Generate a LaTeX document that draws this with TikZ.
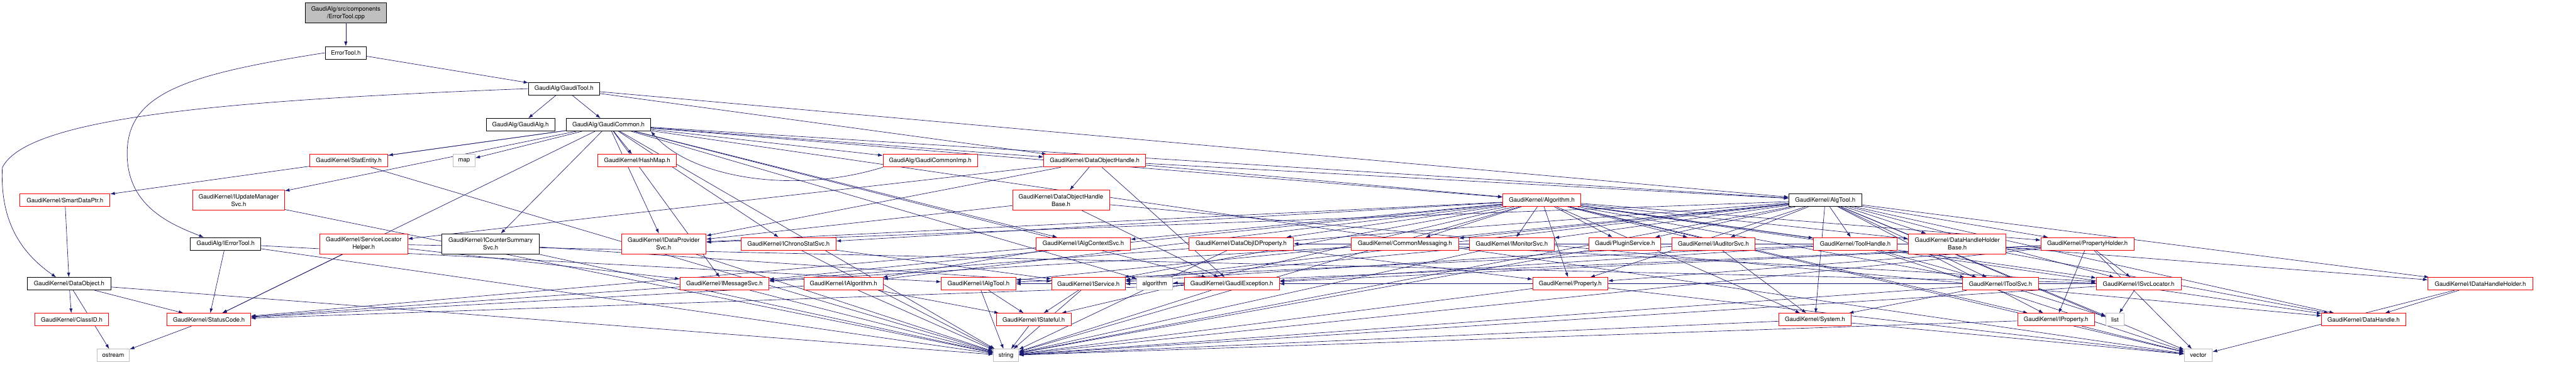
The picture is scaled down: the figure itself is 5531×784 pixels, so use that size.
\documentclass[tikz,border=0pt]{standalone}
\usepackage{fontspec}
\setmainfont{TeX Gyre Heros}
\usetikzlibrary{arrows.meta,backgrounds}
\definecolor{edgeBlue}{RGB}{25,25,112}
\definecolor{boxRed}{RGB}{255,0,0}
\definecolor{boxGrey}{RGB}{191,191,191}

\begin{document}
\begin{tikzpicture}[x=1pt, y=-1pt,
    hdr/.style={draw, fill=white, line width=1.1pt, minimum height=27pt, inner sep=2pt,
      align=center, font=\fontsize{13}{16}\selectfont},
    docbox/.style={hdr, draw=black},
    trunc/.style={hdr, draw=boxRed},
    sysbox/.style={hdr, draw=boxGrey},
    tall/.style={minimum height=43pt},
    dep/.style={draw=edgeBlue, line width=0.9pt, -{Latex[length=10pt,width=7pt]}}]
  \useasboundingbox (0,0) rectangle (5531,784);

  % top of the graph
  \node[docbox, tall, fill=boxGrey, minimum width=175pt] (cpp) at (742.5,28) {GaudiAlg/src/components\\/ErrorTool.cpp};
  \node[docbox, minimum width=89pt] (errh) at (742.5,113.5) {ErrorTool.h};
  \node[docbox, minimum width=152pt] (gtool) at (1211,190.5) {GaudiAlg/GaudiTool.h};
  \node[docbox, minimum width=147pt] (galg) at (1117.5,268) {GaudiAlg/GaudiAlg.h};
  \node[docbox, minimum width=181pt] (gcommon) at (1306.5,268) {GaudiAlg/GaudiCommon.h};

  % row A
  \node[trunc, minimum width=168pt] (statentity) at (749,345.5) {GaudiKernel/StatEntity.h};
  \node[sysbox, minimum width=47pt] (map) at (996.5,345.5) {map};
  \node[trunc, minimum width=168pt] (hashmap) at (1368,345.5) {GaudiKernel/HashMap.h};
  \node[trunc, minimum width=203pt] (gcimp) at (1997.5,345.5) {GaudiAlg/GaudiCommonImp.h};
  \node[trunc, minimum width=219pt] (doh) at (2350.5,345.5) {GaudiKernel/DataObjectHandle.h};

  % row B
  \node[trunc, minimum width=193pt] (smartptr) at (139.5,430.5) {GaudiKernel/SmartDataPtr.h};
  \node[trunc, tall, minimum width=197pt] (iupdmgr) at (512.5,430.5) {GaudiKernel/IUpdateManager\\Svc.h};
  \node[trunc, tall, minimum width=208pt] (dohbase) at (2278,430.5) {GaudiKernel/DataObjectHandle\\Base.h};
  \node[trunc, minimum width=167pt] (algorithmh) at (3310.5,430.5) {GaudiKernel/Algorithm.h};
  \node[docbox, minimum width=156pt] (algtool) at (3919,430.5) {GaudiKernel/AlgTool.h};

  % row C
  \node[docbox, minimum width=151pt] (ierrtool) at (484.5,524) {GaudiAlg/IErrorTool.h};
  \node[trunc, tall, minimum width=188pt] (slhelper) at (781,524) {GaudiKernel/ServiceLocator\\Helper.h};
  \node[docbox, tall, minimum width=209pt] (icounter) at (1053.5,524) {GaudiKernel/ICounterSummary\\Svc.h};
  \node[trunc, tall, minimum width=182pt] (idataprov) at (1425,524) {GaudiKernel/IDataProvider\\Svc.h};
  \node[trunc, minimum width=204pt] (ichrono) at (1693,524) {GaudiKernel/IChronoStatSvc.h};
  \node[trunc, minimum width=202pt] (ialgctx) at (2326,524) {GaudiKernel/IAlgContextSvc.h};
  \node[trunc, minimum width=224pt] (dataobjid) at (2665,524) {GaudiKernel/DataObjIDProperty.h};
  \node[trunc, minimum width=231pt] (commonmsg) at (3016.5,524) {GaudiKernel/CommonMessaging.h};
  \node[trunc, minimum width=182pt] (imonitor) at (3246,524) {GaudiKernel/IMonitorSvc.h};
  \node[trunc, minimum width=154pt] (pluginsvc) at (3489,524) {Gaudi/PluginService.h};
  \node[trunc, minimum width=178pt] (iauditor) at (3679,524) {GaudiKernel/IAuditorSvc.h};
  \node[trunc, minimum width=179pt] (toolhandle) at (3983.5,524) {GaudiKernel/ToolHandle.h};
  \node[trunc, tall, minimum width=209pt] (dhhbase) at (4202.5,524) {GaudiKernel/DataHandleHolder\\Base.h};
  \node[trunc, minimum width=200pt] (propholder) at (4482,524) {GaudiKernel/PropertyHolder.h};

  % row D
  \node[docbox, minimum width=179pt] (dataobject) at (148.5,610) {GaudiKernel/DataObject.h};
  \node[trunc, minimum width=191pt] (imessage) at (1555.5,610) {GaudiKernel/IMessageSvc.h};
  \node[trunc, minimum width=170pt] (ialgorithm) at (1811,610) {GaudiKernel/IAlgorithm.h};
  \node[trunc, minimum width=160pt] (ialgtool) at (2101,610) {GaudiKernel/IAlgTool.h};
  \node[trunc, minimum width=158pt] (iservice) at (2337,610) {GaudiKernel/IService.h};
  \node[sysbox, minimum width=77pt] (algostd) at (2479.5,610) {algorithm};
  \node[trunc, minimum width=204pt] (gaudiexc) at (2645,610) {GaudiKernel/GaudiException.h};
  \node[trunc, minimum width=161pt] (property) at (3371.5,610) {GaudiKernel/Property.h};
  \node[trunc, minimum width=163pt] (itoolsvc) at (4295.5,610) {GaudiKernel/IToolSvc.h};
  \node[trunc, minimum width=182pt] (isvcloc) at (4592,610) {GaudiKernel/ISvcLocator.h};
  \node[trunc, minimum width=225pt] (idhholder) at (5325.5,610) {GaudiKernel/IDataHandleHolder.h};

  % row E
  \node[trunc, minimum width=158pt] (classid) at (154,687) {GaudiKernel/ClassID.h};
  \node[trunc, minimum width=179pt] (statuscode) at (448.5,687) {GaudiKernel/StatusCode.h};
  \node[trunc, minimum width=161pt] (istateful) at (2219.5,687) {GaudiKernel/IStateful.h};
  \node[trunc, minimum width=156pt] (system) at (3897,687) {GaudiKernel/System.h};
  \node[trunc, minimum width=165pt] (iproperty) at (4414.5,687) {GaudiKernel/IProperty.h};
  \node[sysbox, minimum width=38pt] (list) at (4541,687) {list};
  \node[trunc, minimum width=180pt] (datahandle) at (5075,687) {GaudiKernel/DataHandle.h};

  % standard headers
  \node[sysbox, minimum width=70pt] (ostream) at (243,764) {ostream};
  \node[sysbox, minimum width=54pt] (string) at (2160,764) {string};
  \node[sysbox, minimum width=60pt] (vector) at (4720,764) {vector};

  % include edges, kept behind the boxes
  \begin{pgfonlayer}{background}
    \draw[dep] (cpp) -- (errh);
    \draw[dep] (errh) -- (gtool);
    \draw[dep] (errh.west) .. controls (400,160) and (273,200) .. (273,330)
      .. controls (273,440) and (360,480) .. ([xshift=29pt]ierrtool.north west);
    \draw[dep] (gtool.west) .. controls (500,215) and (60,250) .. (5,360)
      .. controls (0,470) and (40,540) .. ([xshift=-28pt]dataobject.north);
    \foreach \t in {galg,gcommon,doh,algtool}
      \draw[dep] (gtool) -- (\t);
    \foreach \t in {statentity,map,hashmap,gcimp,doh,smartptr,iupdmgr,icounter,idataprov,imessage,
        ichrono,ialgctx,statuscode,string,algorithmh,algtool,gaudiexc,vector,algostd}
      \draw[dep] (gcommon) -- (\t);
    \draw[dep] (gcimp.south west) .. controls (1700,420) and (1480,380) .. (gcommon.south east);
    \foreach \t in {dohbase,slhelper,idataprov,gaudiexc,algorithmh,algtool}
      \draw[dep] (doh) -- (\t);
    \foreach \t in {idataprov,datahandle,gaudiexc}
      \draw[dep] (dohbase) -- (\t);
    \foreach \t in {ialgorithm,imessage,iproperty,iservice,istateful,isvcloc,string,vector,commonmsg,
        ialgctx,iauditor,ichrono,idataprov,imonitor,itoolsvc,property,propholder,system,toolhandle,
        pluginsvc,dhhbase,dataobjid,datahandle}
      \draw[dep] (algorithmh) -- (\t);
    \foreach \t in {ialgtool,imessage,iproperty,iservice,isvcloc,itoolsvc,property,propholder,system,
        toolhandle,imonitor,iauditor,commonmsg,pluginsvc,dhhbase,idhholder,idataprov,string,vector,
        list,datahandle}
      \draw[dep] (algtool) -- (\t);
    \foreach \s/\t in {slhelper/statuscode,slhelper/imessage,slhelper/isvcloc,
        ierrtool/statuscode,ierrtool/ialgtool,ierrtool/string,
        icounter/iservice,icounter/string,idataprov/string,ichrono/iservice,ichrono/string,
        imessage/statuscode,imessage/string,ialgorithm/istateful,ialgorithm/statuscode,ialgorithm/string,
        ialgtool/istateful,ialgtool/string,iservice/istateful,iservice/string,
        ialgctx/ialgorithm,ialgctx/statuscode,dataobjid/property,dataobjid/string,
        gaudiexc/statuscode,gaudiexc/string,istateful/string,commonmsg/imessage,commonmsg/isvcloc,
        imonitor/iservice,imonitor/string,pluginsvc/string,iauditor/iservice,iauditor/system,
        property/string,property/gaudiexc,property/vector,
        toolhandle/ialgtool,toolhandle/itoolsvc,toolhandle/gaudiexc,toolhandle/vector,
        dhhbase/idhholder,dhhbase/datahandle,dhhbase/dataobjid,
        propholder/iproperty,propholder/isvcloc,propholder/property,propholder/gaudiexc,
        propholder/string,propholder/vector,propholder/algostd,
        itoolsvc/ialgtool,itoolsvc/system,itoolsvc/list,itoolsvc/string,
        isvcloc/list,isvcloc/string,isvcloc/iservice,system/string,system/vector,
        iproperty/string,iproperty/vector,idhholder/datahandle,idhholder/vector,
        dataobject/classid,dataobject/statuscode,dataobject/ostream,dataobject/string,
        smartptr/dataobject,iupdmgr/string,statentity/string,statuscode/ostream}
      \draw[dep] (\s) -- (\t);
  \end{pgfonlayer}
\end{tikzpicture}
\end{document}
